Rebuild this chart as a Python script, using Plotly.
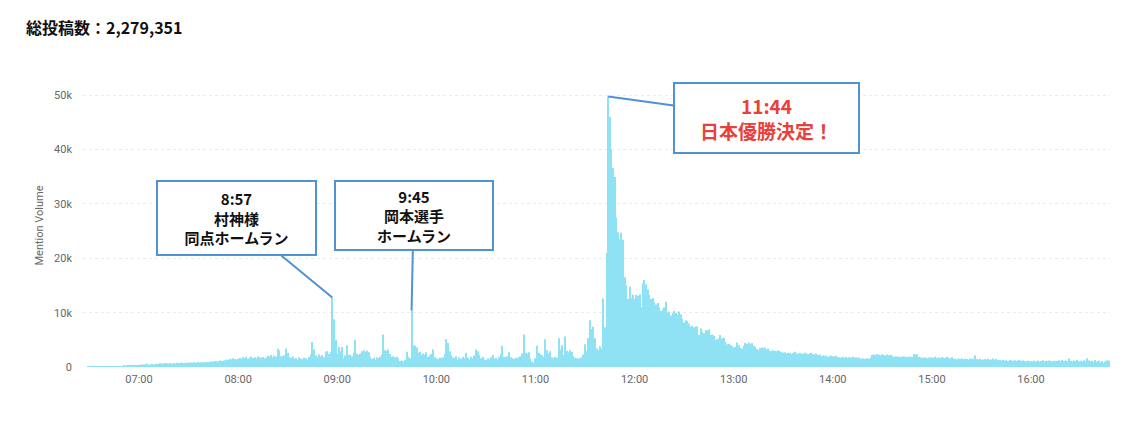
import pandas as pd
import plotly.graph_objects as go

# ---- data (mentions per minute, 2023-03-22 JST) ----
start_time = "2023-03-22 06:28"

vals_06 = [0, 20, 10, 30, 20, 40, 30, 20, 50, 40, 60, 30, 70, 50, 80, 60,
           90, 120, 80, 150, 110, 180, 140, 210, 170, 240, 200, 260, 230, 290, 250, 320]

vals_07 = [420, 480, 390, 520, 460, 610, 430, 500, 560, 470, 540,
           620, 580, 700, 650, 590, 720, 680, 610, 750, 660, 700, 640, 780, 690, 730, 810, 670, 740, 800,
           760, 850, 790, 880, 820, 760, 900, 840, 870, 810, 930, 860, 890, 950,
           1020, 960, 1100, 1050, 980, 1180, 1090, 1150,
           1240, 1380, 1300, 1520, 1420, 1610, 1480, 1350]

vals_08 = [1520, 1680, 1450, 1790, 1610, 1870, 1540, 1720, 1930, 1660, 1800, 1580, 1950, 1740,
           1690, 1820, 1600, 1760,
           2050, 1880, 2210, 1790, 2100, 1950, 3380,
           3020, 2040, 1980, 2150,
           3420, 2600,
           1850, 1720, 1900,
           1480, 1650, 1320, 1780, 1560, 1410, 1700, 1600, 1380, 1820, 2300,
           4600, 3200,
           2100, 1850, 2300, 1950, 2200, 1800,
           2800, 2900, 2400, 2800,
           12800, 8800, 5000]

vals_09 = [2500, 3700, 2900, 3700, 1600, 2100, 4000, 2200, 2300, 2000,
           2600, 5000, 2400, 2200, 2500, 2900, 3100, 2800, 3000, 2700,
           1900, 1500, 1700, 1300, 1800, 1600, 1900, 2300, 6000, 3100,
           3000, 3200, 2400, 1900, 2000, 1800, 1900, 1500, 1100, 1200,
           1000, 1300, 2800, 1900, 1600, 10400, 4100, 3900, 3600, 2600,
           2800, 2200, 2500, 2300, 2700, 1900, 2100, 2400, 3200, 1800]

vals_10 = [1600, 1500, 1700, 1600, 1800, 2400, 5100, 4400, 2900, 2200,
           1800, 1600, 2000, 1300, 1800, 1500, 1900, 1600, 2600, 1700,
           1400, 1900, 1600, 2100, 3200, 2900, 2200, 1600, 1900, 1400,
           1300, 1600, 1400, 1800, 2200, 1500, 1700, 1400, 1900, 2400,
           3900, 1900, 1800, 2000, 2700, 1800, 1600, 1500, 1700, 1600,
           1900, 2000, 2500, 6000, 2600, 2400, 2700, 1500, 1000, 800]

vals_11 = [1600, 3900, 2600, 2400, 2200, 1900, 5100, 3100, 2500, 2900,
           1800, 1600, 1900, 1700, 5300, 3200, 4000, 2200, 5600, 3000,
           2700, 3100, 2800, 2000, 1700, 1600, 1500, 1700, 1800, 2300,
           4200, 3000, 5300, 8600, 7000, 7400, 5300, 3400, 3100, 3800,
           3400, 12600, 7300, 21000, 49800, 46000, 40000, 36600, 35000, 27500,
           24800, 23500, 24700, 23400, 16500, 15000, 12500, 14800, 12700, 13300]

vals_12 = [12500, 13300, 13100, 13400, 11000, 15400, 16000, 15200, 14300, 13300,
           12500, 12700, 12000, 11500, 11800, 11000, 10300, 10600, 11000, 12000,
           10000, 10200, 9500, 9900, 10300, 10000, 9600, 10200, 9700, 8900,
           8200, 8600, 8400, 8000, 7400, 7600, 7300, 7500, 7400, 5900,
           7100, 6500, 6200, 6800, 6700, 6900, 5900, 6000, 5800, 5000,
           5100, 5300, 5900, 5300, 5400, 4600, 4200, 4300, 4100, 3900]

vals_13 = [3600, 3700, 4500, 4000, 3500, 3400, 3900, 4400, 4300, 4500,
           4200, 4400, 3900, 3700, 3300, 3100, 3500, 3600, 3500, 3600,
           3200, 3400, 3000, 2900, 3100, 3000, 2900, 3100, 2900, 2700,
           2600, 2700, 2500, 2600, 2600, 2400, 2600, 2800, 2500, 2500,
           2600, 2400, 2500, 2600, 2500, 2400, 2500, 2600, 2400, 2300,
           2500, 2200, 2300, 2000, 2100, 2000, 2100, 1900, 2000, 2100]

vals_14 = [2000, 1900, 2050, 1850, 1800, 1750, 1900, 1700, 1850, 1650,
           1800, 1750, 1900, 1700, 1800, 1650, 1750, 1500, 1600, 1450,
           1550, 1600, 1500, 1750, 2200, 2300, 2150, 2400, 2250, 2100,
           2350, 2200, 2050, 2300, 2150, 2250, 2000, 1900, 2000, 1850,
           1950, 1800, 1900, 2000, 1850, 1900, 1800, 1950, 1850, 2400,
           2300, 2350, 1900, 1700, 1750, 1650, 1800, 1600, 1750, 1700]

vals_15 = [1800, 1650, 1900, 1700, 1750, 1600, 1850, 1700, 1650, 1900,
           1750, 1600, 1800, 1550, 1500, 1400, 1550, 1450, 1600, 1400,
           1500, 1450, 1350, 1550, 1450, 1500, 2100, 1450, 1350, 1500,
           1300, 1400, 1450, 1350, 1500, 1300, 1400, 1550, 1350, 1450,
           1300, 1250, 1200, 1300, 1150, 1250, 1100, 1300, 1200, 1150,
           1250, 1100, 1200, 1300, 1150, 1200, 1100, 1050, 1150, 1000]

vals_16 = [1100, 1000, 1150, 1050, 1200, 950, 1100, 1250, 1000, 1150,
           1050, 1200, 1100, 950, 1150, 1050, 1100, 1250, 1000, 1300,
           1100, 1200, 1050, 1550, 1150, 1000, 1200, 1100, 1300, 1050,
           1150, 1000, 1250, 1100, 1600, 1200, 1050, 1150, 950, 1300,
           1000, 1200, 850, 1100, 750, 1000, 1250, 1200]

y_ticks = [0, 10000, 20000, 30000, 40000, 50000]
y_tick_text = ["0", "10k", "20k", "30k", "40k", "50k"]

title_text = "総投稿数：2,279,351"
events = [
    ("2023-03-22 08:57", "8:57<br>村神様<br>同点ホームラン"),
    ("2023-03-22 09:45", "9:45<br>岡本選手<br>ホームラン"),
    ("2023-03-22 11:44", "11:44<br>日本優勝決定！"),
]

# ---- build ----
values = (vals_06 + vals_07 + vals_08 + vals_09 + vals_10 + vals_11 +
          vals_12 + vals_13 + vals_14 + vals_15 + vals_16)
times = pd.date_range(start=start_time, periods=len(values), freq="min")
series = pd.Series(values, index=times)

fig = go.Figure()
fig.add_trace(go.Bar(
    x=times, y=values,
    marker=dict(color="#8fe2f3", line=dict(width=0)),
    hoverinfo="x+y",
))

BLUE = "#4f93d4"
ann_styles = [
    dict(ax=-96, ay=-79, width=151, height=66, color="#111111", size=15),
    dict(ax=2, ay=-95, width=150, height=61, color="#111111", size=15),
    dict(ax=158, ay=22, width=177, height=62, color="#e8413c", size=19),
]
for (t, txt), st in zip(events, ann_styles):
    ts = pd.Timestamp(t)
    fig.add_annotation(
        x=ts, y=series[ts], xref="x", yref="y",
        text="<b>" + txt + "</b>",
        showarrow=True, arrowhead=0, arrowwidth=2, arrowcolor=BLUE,
        ax=st["ax"], ay=st["ay"], standoff=0,
        bordercolor=BLUE, borderwidth=2, borderpad=3, bgcolor="white",
        width=st["width"], height=st["height"], align="center", valign="middle",
        font=dict(family="Noto Sans CJK JP", size=st["size"], color=st["color"]),
    )

fig.add_annotation(
    xref="paper", yref="paper", x=0, y=1, xanchor="left", yanchor="middle",
    xshift=-59, yshift=57, showarrow=False,
    text="<b>" + title_text + "</b>",
    font=dict(family="Noto Sans CJK JP", size=16, color="#111111"),
)

# page body has an 8px margin, so the figure is offset by (8, 8)
fig.update_layout(
    width=1142, height=435,
    margin=dict(l=75, r=40, t=76, b=76),
    paper_bgcolor="white", plot_bgcolor="white",
    bargap=0.4, showlegend=False,
    font=dict(family="Roboto, Arial, sans-serif", size=11, color="#666666"),
)
fig.update_xaxes(
    type="date",
    range=["2023-03-22 06:26:06", "2023-03-22 16:47:48"],
    tick0="2023-03-22 07:00", dtick=3600000, tickformat="%H:%M",
    showgrid=False, zeroline=False, showline=False, ticks="",
    ticklabelstandoff=4,
    tickfont=dict(size=11, color="#666666"),
)
fig.update_yaxes(
    range=[0, 52080],
    tickvals=y_ticks, ticktext=y_tick_text,
    showgrid=True, gridcolor="#ebebeb", griddash="dot", gridwidth=1,
    zeroline=False, showline=False, ticks="",
    ticklabelstandoff=10,
    tickfont=dict(size=11, color="#666666"),
    title=dict(text="Mention Volume", standoff=8,
               font=dict(size=11, color="#666666")),
)

fig.write_html("out.html")
